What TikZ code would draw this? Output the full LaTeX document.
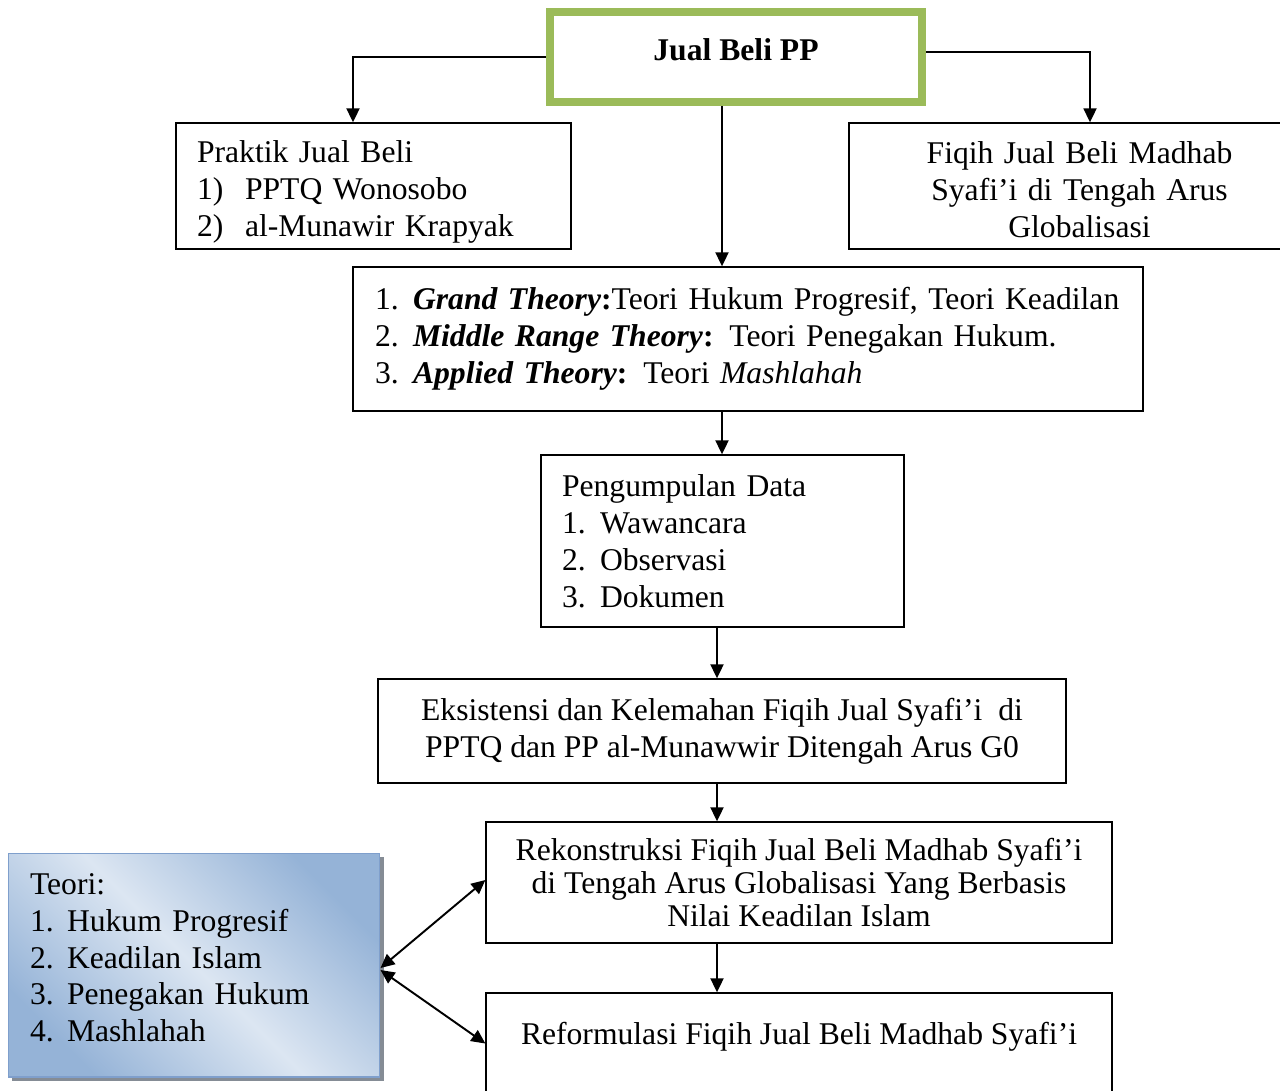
\documentclass[tikz,border=0pt]{standalone}
\usepackage{fontspec}
\setmainfont{Liberation Serif}
\usetikzlibrary{arrows.meta}
\usetikzlibrary{shadows}

\definecolor{jgreen}{HTML}{9BBB59}
\definecolor{tblue}{HTML}{95B3D7}
\definecolor{tlight}{HTML}{DCE6F2}
\definecolor{tborder}{HTML}{7F9FCC}

\begin{document}
\begin{tikzpicture}[
    x=0.02cm, y=-0.02cm,
    box/.style={draw, line width=0.8pt, inner xsep=0.42cm, inner ysep=0pt, font=\fontsize{18pt}{21pt}\selectfont},
    arrow/.style={line width=1.1pt, -{Triangle[length=0.28cm, width=0.26cm]}},
    both arrow/.style={line width=1.1pt, {Triangle[length=0.28cm, width=0.26cm]}-{Triangle[length=0.28cm, width=0.26cm]}},
    ]
  \useasboundingbox (0,0) rectangle (1280,1090);
  \coordinate (mid) at (722,0);
  \coordinate (low) at (717,0);

  \node[box, draw=jgreen, line width=0.16cm, minimum width=7.44cm, minimum height=1.8cm,
        text height=0.42cm, text depth=0.3cm] (jual) at (736,57) {\textbf{Jual Beli PP}};
  \draw[jgreen, line width=0.04cm] ([shift={(0.14cm,-0.14cm)}]jual.north west) rectangle ([shift={(-0.14cm,0.14cm)}]jual.south east);

  \node[box, minimum width=7.9cm, minimum height=2.52cm, text width=7.06cm, align=left,
        text height=0.68cm] (praktik) at (373.5,186)
    {Praktik Jual Beli\\
     \makebox[0.96cm][l]{1)}PPTQ Wonosobo\\
     \makebox[0.96cm][l]{2)}al-Munawir Krapyak};
  \node[box, minimum width=9.22cm, minimum height=2.52cm, text width=8.38cm, align=center,
        text height=0.58cm] (fiqih) at (1079.5,186)
    {Fiqih Jual Beli Madhab\\ Syafi’i di Tengah Arus\\ Globalisasi};

  \node[box, minimum width=15.8cm, minimum height=2.88cm, inner xsep=0.44cm, text width=14.92cm, align=left] (theory) at (748,339)
    {\makebox[0.76cm][l]{1.}\textbf{\textit{Grand Theory}:}Teori Hukum Progresif, Teori Keadilan\\
     \makebox[0.76cm][l]{2.}\textbf{\textit{Middle Range Theory}:} Teori Penegakan Hukum.\\
     \makebox[0.76cm][l]{3.}\textbf{\textit{Applied Theory}:} Teori \textit{Mashlahah}};

  \node[box, minimum width=7.26cm, minimum height=3.44cm, text width=6.42cm, align=left] (data) at (722.5,541)
    {Pengumpulan Data\\
     \makebox[0.76cm][l]{1.}Wawancara\\
     \makebox[0.76cm][l]{2.}Observasi\\
     \makebox[0.76cm][l]{3.}Dokumen};

  \node[box, minimum width=13.76cm, minimum height=2.08cm, align=center] (eksistensi) at (722,731)
    {Eksistensi dan Kelemahan Fiqih Jual Syafi’i~ di\\ PPTQ dan PP al-Munawwir Ditengah Arus G0};

  \node[box, minimum width=12.52cm, minimum height=2.42cm, align=center,
        font=\fontsize{18pt}{18.8pt}\selectfont] (rekonstruksi) at (799,882.5)
    {Rekonstruksi Fiqih Jual Beli Madhab Syafi’i\\ di Tengah Arus Globalisasi Yang Berbasis\\ Nilai Keadilan Islam};

  \node[box, minimum width=12.52cm, minimum height=2.34cm, align=center] (reformulasi) at (799,1051.5)
    {Reformulasi Fiqih Jual Beli Madhab Syafi’i\\ ~};

  \node[box, draw=tborder, line width=0.6pt, minimum width=7.44cm, minimum height=4.48cm, inner xsep=0.44cm,
        text width=6.56cm, align=left, text depth=3.25cm,
        top color=tblue, bottom color=tblue, middle color=tlight, shading angle=-45,
        drop shadow={shadow xshift=0.08cm, shadow yshift=-0.08cm, fill=gray!75!tblue, opacity=1}] (teori) at (194,965)
    {Teori:\\
     \makebox[0.74cm][l]{1.}Hukum Progresif\\
     \makebox[0.74cm][l]{2.}Keadilan Islam\\
     \makebox[0.74cm][l]{3.}Penegakan Hukum\\
     \makebox[0.74cm][l]{4.}Mashlahah};

  \draw[arrow] (jual.west) -| ([xshift=-0.41cm]praktik.north);
  \draw[arrow] ([yshift=0.1cm]jual.east) -| ([xshift=0.21cm]fiqih.north);
  \draw[arrow] (jual.south -| mid) -- (theory.north -| mid);
  \draw[arrow] (theory.south -| mid) -- (data.north -| mid);
  \draw[arrow] (data.south -| low) -- (eksistensi.north -| low);
  \draw[arrow] (eksistensi.south -| low) -- (rekonstruksi.north -| low);
  \draw[arrow] (rekonstruksi.south -| low) -- (reformulasi.north -| low);
  \draw[both arrow] ([yshift=-0.06cm]teori.east) -- ([yshift=0.05cm]rekonstruksi.west);
  \draw[both arrow] ([yshift=-0.1cm]teori.east) -- ([yshift=0.16cm]reformulasi.west);
\end{tikzpicture}
\end{document}
